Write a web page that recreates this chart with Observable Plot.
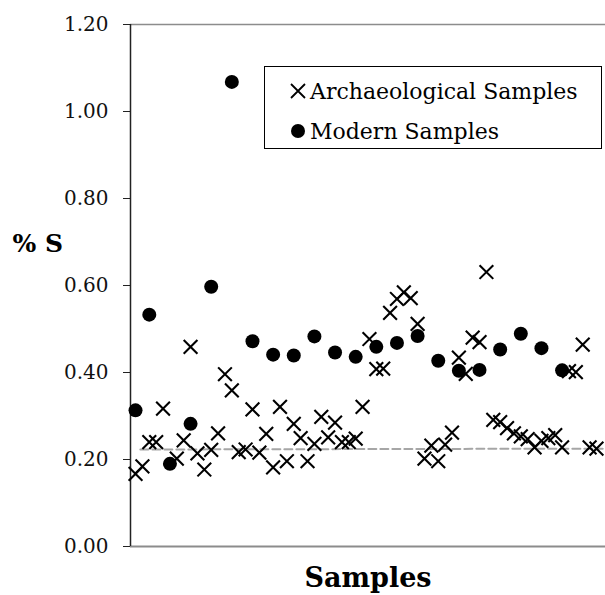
<!DOCTYPE html>
<html>
<head>
<meta charset="utf-8">
<script src="https://cdn.jsdelivr.net/npm/d3@7"></script>
<script src="https://cdn.jsdelivr.net/npm/@observablehq/plot@0.6"></script>
<style>
  body { margin: 0; background: #fff; }
  #wrap { position: relative; width: 605px; height: 595px; }
  #legend {
    position: absolute; left: 264px; top: 66px; width: 336px; height: 81px;
    border: 1px solid #000; background: #fff;
    font-family: "DejaVu Serif", serif; font-size: 22px; color: #000;
  }
  .row { position: absolute; left: 0; height: 30px; display: flex; align-items: center; white-space: nowrap; }
  .row svg { margin-left: 24.5px; margin-right: 4.5px; }
</style>
</head>
<body>
<div id="wrap"></div>
<script>
// Archaeological samples: sample position index and % S
const archX = [1, 2, 3, 4, 5, 7, 8, 9, 10, 11, 12, 13, 14, 15, 16, 17, 18, 19, 20, 21, 22, 23, 24, 25, 26, 27, 28, 29, 30, 31, 32, 33, 34, 35, 36, 37, 38, 39, 40, 41, 42, 43, 44, 45, 46, 47, 48, 49, 50, 51, 52, 53, 54, 55, 56, 57, 58, 59, 60, 61, 62, 63, 64, 65, 66, 67, 68];
const archY = [0.167, 0.184, 0.240, 0.240, 0.317, 0.202, 0.244, 0.459, 0.214, 0.177, 0.222, 0.260, 0.396, 0.359, 0.217, 0.223, 0.315, 0.216, 0.259, 0.182, 0.321, 0.196, 0.282, 0.249, 0.196, 0.236, 0.298, 0.251, 0.285, 0.240, 0.240, 0.248, 0.321, 0.477, 0.408, 0.409, 0.537, 0.569, 0.584, 0.571, 0.512, 0.202, 0.232, 0.196, 0.234, 0.262, 0.434, 0.397, 0.480, 0.470, 0.631, 0.291, 0.286, 0.272, 0.260, 0.253, 0.247, 0.228, 0.243, 0.249, 0.256, 0.228, 0.403, 0.401, 0.464, 0.228, 0.225];

// Modern samples
const modernX = [1, 3, 6, 9, 12, 15, 18, 21, 24, 27, 30, 33, 36, 39, 42, 45, 48, 51, 54, 57, 60, 63];
const modernY = [0.313, 0.533, 0.190, 0.282, 0.597, 1.068, 0.472, 0.441, 0.439, 0.483, 0.446, 0.436, 0.459, 0.468, 0.484, 0.427, 0.404, 0.406, 0.453, 0.489, 0.456, 0.405];

// Dashed reference line
const refX = [1.7, 68.9];
const refY = [0.223, 0.225];

const yTicks = [0, 0.2, 0.4, 0.6, 0.8, 1.0, 1.2];
const xDomain = [0.27, 69.31];
const yDomain = [0, 1.2];

const arch = archX.map((x, i) => ({x, y: archY[i]}));
const modern = modernX.map((x, i) => ({x, y: modernY[i]}));
const ref = refX.map((x, i) => ({x, y: refY[i]}));

const serif = "DejaVu Serif, serif";

const chart = Plot.plot({
  width: 605,
  height: 595,
  marginLeft: 130,
  marginRight: 0,
  marginTop: 24,
  marginBottom: 49,
  style: {fontFamily: serif, background: "#fff", overflow: "visible"},
  x: {domain: xDomain, axis: null},
  y: {domain: yDomain},
  marks: [
    Plot.axisY({ticks: yTicks, tickFormat: d3.format(".2f"), tickSize: 7, tickPadding: 15,
      fontSize: 20, fontFamily: serif, label: null, stroke: "#222", color: "#111"}),
    Plot.ruleY([yDomain[1]], {stroke: "#8c8c8c", strokeWidth: 1.5}),
    Plot.ruleY([yDomain[0]], {stroke: "#8c8c8c", strokeWidth: 2}),
    Plot.ruleX([xDomain[0]], {stroke: "#222", strokeWidth: 1.5}),
    Plot.line(ref, {x: "x", y: "y", stroke: "#a6a6a6", strokeWidth: 2, strokeDasharray: "8,4"}),
    Plot.dot(arch, {x: "x", y: "y", symbol: "times", r: 6.3, stroke: "#000", strokeWidth: 2.1}),
    Plot.dot(modern, {x: "x", y: "y", symbol: "circle", r: 7, fill: "#000", stroke: "none"}),
    Plot.text(["% S"], {frameAnchor: "left", textAnchor: "start", lineAnchor: "middle",
      dx: -118, dy: -42, fontSize: 25, fontWeight: "bold", fontFamily: serif, fill: "#000"}),
    Plot.text(["Samples"], {frameAnchor: "bottom", textAnchor: "middle", lineAnchor: "middle",
      dy: 32, fontSize: 27, fontWeight: "bold", fontFamily: serif, fill: "#000"})
  ]
});

const wrap = document.getElementById("wrap");
wrap.appendChild(chart);

const legend = document.createElement("div");
legend.id = "legend";
legend.innerHTML = `
  <div class="row" style="top:9px">
    <svg width="16" height="16" viewBox="-8 -8 16 16"><path d="M-7,-7L7,7M-7,7L7,-7" stroke="#000" stroke-width="1.8"/></svg>
    <span>Archaeological Samples</span>
  </div>
  <div class="row" style="top:49px">
    <svg width="16" height="16" viewBox="-8 -8 16 16"><circle r="7" fill="#000"/></svg>
    <span>Modern Samples</span>
  </div>`;
wrap.appendChild(legend);
</script>
</body>
</html>
